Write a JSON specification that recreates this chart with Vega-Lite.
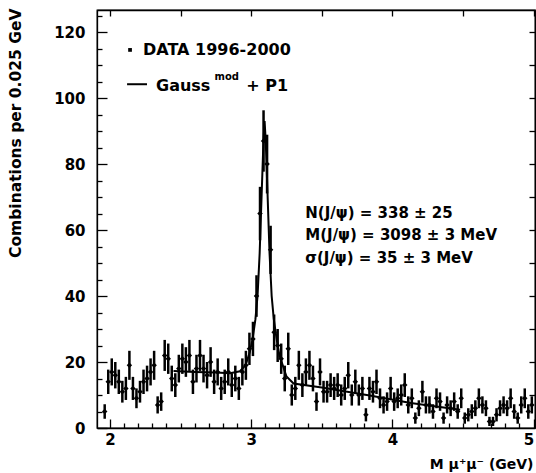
{
  "$schema": "https://vega.github.io/schema/vega-lite/v6.json",
  "width": 438,
  "height": 418,
  "autosize": {"type": "none"},
  "padding": {"left": 97, "top": 10, "right": 1, "bottom": 45},
  "background": "white",
  "config": {
    "font": "DejaVu Sans",
    "view": {"stroke": "black", "strokeWidth": 1.3},
    "axis": {"grid": false, "domainColor": "black", "domainWidth": 1.3, "tickColor": "black", "tickWidth": 1.3, "labelFont": "DejaVu Sans", "labelFontWeight": "bold", "labelFontSize": 15, "labelColor": "black", "titleFont": "DejaVu Sans", "titleFontWeight": "bold", "titleColor": "black", "labelOverlap": false, "labelFlush": false}
  },
  "datasets": {
    "pts": [
      {"x":1.9625,"y":5,"e":2.2},{"x":1.9875,"y":14,"e":3.7},{"x":2.0125,"y":17,"e":4.1},{"x":2.0375,"y":16,"e":4.0},
      {"x":2.0625,"y":14,"e":3.7},{"x":2.0875,"y":11,"e":3.3},{"x":2.1125,"y":12,"e":3.5},{"x":2.1375,"y":19,"e":4.4},
      {"x":2.1625,"y":12,"e":3.5},{"x":2.1875,"y":9,"e":3.0},{"x":2.2125,"y":11,"e":3.3},{"x":2.2375,"y":14,"e":3.7},
      {"x":2.2625,"y":15,"e":3.9},{"x":2.2875,"y":17,"e":4.1},{"x":2.3125,"y":19,"e":4.4},{"x":2.3375,"y":7,"e":2.6},
      {"x":2.3625,"y":8,"e":2.8},{"x":2.3875,"y":22,"e":4.7},{"x":2.4125,"y":21,"e":4.6},{"x":2.4375,"y":15,"e":3.9},
      {"x":2.4625,"y":13,"e":3.6},{"x":2.4875,"y":18,"e":4.2},{"x":2.5125,"y":21,"e":4.6},{"x":2.5375,"y":20,"e":4.5},
      {"x":2.5625,"y":22,"e":4.7},{"x":2.5875,"y":14,"e":3.7},{"x":2.6125,"y":18,"e":4.2},{"x":2.6375,"y":22,"e":4.7},
      {"x":2.6625,"y":18,"e":4.2},{"x":2.6875,"y":16,"e":4.0},{"x":2.7125,"y":20,"e":4.5},{"x":2.7375,"y":14,"e":3.7},
      {"x":2.7625,"y":17,"e":4.1},{"x":2.7875,"y":12,"e":3.5},{"x":2.8125,"y":14,"e":3.7},{"x":2.8375,"y":17,"e":4.1},
      {"x":2.8625,"y":13,"e":3.6},{"x":2.8875,"y":15,"e":3.9},{"x":2.9125,"y":12,"e":3.5},{"x":2.9375,"y":17,"e":4.1},
      {"x":2.9625,"y":19,"e":4.4},{"x":2.9875,"y":24,"e":4.9},{"x":3.0125,"y":27,"e":5.2},{"x":3.0375,"y":40,"e":6.3},
      {"x":3.0625,"y":65,"e":8.1},{"x":3.0875,"y":87,"e":9.3},{"x":3.1125,"y":80,"e":8.9},{"x":3.1375,"y":54,"e":7.3},
      {"x":3.1625,"y":29,"e":5.4},{"x":3.1875,"y":25,"e":5.0},{"x":3.2125,"y":21,"e":4.6},{"x":3.2375,"y":15,"e":3.9},
      {"x":3.2625,"y":24,"e":4.9},{"x":3.2875,"y":10,"e":3.2},{"x":3.3125,"y":12,"e":3.5},{"x":3.3375,"y":19,"e":4.4},
      {"x":3.3625,"y":13,"e":3.6},{"x":3.3875,"y":17,"e":4.1},{"x":3.4125,"y":19,"e":4.4},{"x":3.4375,"y":15,"e":3.9},
      {"x":3.4625,"y":8,"e":2.8},{"x":3.4875,"y":17,"e":4.1},{"x":3.5125,"y":11,"e":3.3},{"x":3.5375,"y":11,"e":3.3},
      {"x":3.5625,"y":13,"e":3.6},{"x":3.5875,"y":12,"e":3.5},{"x":3.6125,"y":13,"e":3.6},{"x":3.6375,"y":10,"e":3.2},
      {"x":3.6625,"y":12,"e":3.5},{"x":3.6875,"y":16,"e":4.0},{"x":3.7125,"y":10,"e":3.2},{"x":3.7375,"y":14,"e":3.7},
      {"x":3.7625,"y":10,"e":3.2},{"x":3.7875,"y":12,"e":3.5},{"x":3.8125,"y":4,"e":2.0},{"x":3.8375,"y":12,"e":3.5},
      {"x":3.8625,"y":11,"e":3.3},{"x":3.8875,"y":14,"e":3.7},{"x":3.9125,"y":9,"e":3.0},{"x":3.9375,"y":7,"e":2.6},
      {"x":3.9625,"y":8,"e":2.8},{"x":3.9875,"y":12,"e":3.5},{"x":4.0125,"y":8,"e":2.8},{"x":4.0375,"y":9,"e":3.0},
      {"x":4.0625,"y":10,"e":3.2},{"x":4.0875,"y":13,"e":3.6},{"x":4.1125,"y":7,"e":2.6},{"x":4.1375,"y":9,"e":3.0},
      {"x":4.1625,"y":3,"e":1.7},{"x":4.1875,"y":6,"e":2.4},{"x":4.2125,"y":11,"e":3.3},{"x":4.2375,"y":7,"e":2.6},
      {"x":4.2625,"y":7,"e":2.6},{"x":4.2875,"y":5,"e":2.2},{"x":4.3125,"y":9,"e":3.0},{"x":4.3375,"y":8,"e":2.8},
      {"x":4.3625,"y":3,"e":1.7},{"x":4.3875,"y":7,"e":2.6},{"x":4.4125,"y":6,"e":2.4},{"x":4.4375,"y":8,"e":2.8},
      {"x":4.4625,"y":5,"e":2.2},{"x":4.4875,"y":9,"e":3.0},{"x":4.5125,"y":3,"e":1.7},{"x":4.5375,"y":4,"e":2.0},
      {"x":4.5625,"y":5,"e":2.2},{"x":4.5875,"y":6,"e":2.4},{"x":4.6125,"y":9,"e":3.0},{"x":4.6375,"y":7,"e":2.6},
      {"x":4.6625,"y":6,"e":2.4},{"x":4.6875,"y":2,"e":1.4},{"x":4.7125,"y":2,"e":1.4},{"x":4.7375,"y":4,"e":2.0},
      {"x":4.7625,"y":6,"e":2.4},{"x":4.7875,"y":7,"e":2.6},{"x":4.8125,"y":6,"e":2.4},{"x":4.8375,"y":9,"e":3.0},
      {"x":4.8625,"y":5,"e":2.2},{"x":4.8875,"y":3,"e":1.7},{"x":4.9125,"y":7,"e":2.6},{"x":4.9375,"y":9,"e":3.0},
      {"x":4.9625,"y":5,"e":2.2},{"x":4.9875,"y":7,"e":2.6}
    ],
    "fit": [
      {"x":2.45,"y":17.3},{"x":2.6,"y":17.0},{"x":2.75,"y":16.8},{"x":2.85,"y":16.6},{"x":2.92,"y":17.2},
      {"x":2.96,"y":19},{"x":2.99,"y":23},{"x":3.01,"y":27},{"x":3.03,"y":33},{"x":3.045,"y":40},
      {"x":3.06,"y":53},{"x":3.075,"y":72},{"x":3.087,"y":87},{"x":3.095,"y":93},{"x":3.103,"y":87},
      {"x":3.115,"y":72},{"x":3.13,"y":53},{"x":3.145,"y":40},{"x":3.16,"y":33},{"x":3.18,"y":27},
      {"x":3.2,"y":22},{"x":3.25,"y":15.6},{"x":3.3,"y":13.5},{"x":3.5,"y":12.3},{"x":3.85,"y":9.8},
      {"x":4.13,"y":7.6},{"x":4.48,"y":5.5}
    ],
    "legline": [{"x":2.121,"x2":2.262,"y":104.2}],
    "legdot": [{"x":2.142,"y":114.6}],
    "legtexts": [
      {"x":2.234,"y":114.6,"t":"DATA 1996-2000"},
      {"x":2.326,"y":103.8,"t":"Gauss"},
      {"x":2.965,"y":103.8,"t":"+ P1"}
    ],
    "texts": [
      {"x":3.383,"y":65.2,"t":"N(J/ψ) = 338 ± 25"},
      {"x":3.383,"y":58.4,"t":"M(J/ψ) = 3098 ± 3 MeV"},
      {"x":3.383,"y":51.6,"t":"σ(J/ψ) = 35 ± 3 MeV"}
    ],
    "sup": [{"x":2.74,"y":106.3,"t":"mod"}]
  },
  "layer": [
    {
      "data": {"name": "pts"},
      "mark": {"type": "errorbar", "color": "black", "thickness": 2.5, "ticks": false},
      "encoding": {
        "x": {"field": "x", "type": "quantitative", "scale": {"domain": [1.908, 5.01], "nice": false, "zero": false},
          "axis": {"orient": "bottom", "values": [2,2.1,2.2,2.3,2.4,2.5,2.6,2.7,2.8,2.9,3,3.1,3.2,3.3,3.4,3.5,3.6,3.7,3.8,3.9,4,4.1,4.2,4.3,4.4,4.5,4.6,4.7,4.8,4.9,5],
            "labelExpr": "abs(datum.value-round(datum.value))<0.001 ? format(datum.value,'d') : ''",
            "labelAlign": {"condition": {"test": "datum.value > 4.95", "value": "right"}, "value": "center"},
            "tickSize": {"condition": {"test": "abs(datum.value-round(datum.value))<0.001", "value": -9}, "value": -5},
            "labelPadding": 13,
            "title": "M μ⁺μ⁻ (GeV)", "titleFontSize": 14, "titleX": 436, "titleY": 40, "titleAlign": "right", "titleBaseline": "alphabetic", "titleAnchor": null}},
        "y": {"field": "y", "type": "quantitative", "scale": {"domain": [0, 126.7], "nice": false}, "title": "Combinations per 0.025 GeV",
          "axis": {"orient": "left", "values": [0,5,10,15,20,25,30,35,40,45,50,55,60,65,70,75,80,85,90,95,100,105,110,115,120,125],
            "labelExpr": "datum.value % 20 === 0 ? datum.label : ''",
            "tickSize": {"condition": {"test": "datum.value % 20 === 0", "value": -10}, "value": -5},
            "labelPadding": 22,
            "titleFontSize": 15.5, "titleX": -82, "titleY": -2, "titleAngle": -90, "titleAlign": "right", "titleBaseline": "middle", "titleAnchor": null}},
        "yError": {"field": "e"}
      }
    },
    {
      "data": {"name": "pts"},
      "mark": {"type": "point", "shape": "diamond", "filled": true, "color": "black", "size": 30, "opacity": 1},
      "encoding": {
        "x": {"field": "x", "type": "quantitative", "axis": null},
        "y": {"field": "y", "type": "quantitative", "axis": null}
      }
    },
    {
      "data": {"name": "fit"},
      "mark": {"type": "line", "color": "black", "strokeWidth": 2},
      "encoding": {
        "x": {"field": "x", "type": "quantitative", "axis": null},
        "y": {"field": "y", "type": "quantitative", "axis": null}
      }
    },
    {
      "data": {"name": "legline"},
      "mark": {"type": "rule", "color": "black", "strokeWidth": 2},
      "encoding": {
        "x": {"field": "x", "type": "quantitative", "axis": null},
        "x2": {"field": "x2"},
        "y": {"field": "y", "type": "quantitative", "axis": null}
      }
    },
    {
      "data": {"name": "legdot"},
      "mark": {"type": "point", "shape": "square", "filled": true, "color": "black", "size": 14, "opacity": 1},
      "encoding": {
        "x": {"field": "x", "type": "quantitative", "axis": null},
        "y": {"field": "y", "type": "quantitative", "axis": null}
      }
    },
    {
      "data": {"name": "sup"},
      "mark": {"type": "text", "align": "left", "baseline": "middle", "font": "DejaVu Sans", "fontWeight": "bold", "fontSize": 10, "color": "black"},
      "encoding": {
        "x": {"field": "x", "type": "quantitative", "axis": null},
        "y": {"field": "y", "type": "quantitative", "axis": null},
        "text": {"field": "t"}
      }
    },
    {
      "data": {"name": "legtexts"},
      "mark": {"type": "text", "align": "left", "baseline": "middle", "font": "DejaVu Sans", "fontWeight": "bold", "fontSize": 16, "color": "black"},
      "encoding": {
        "x": {"field": "x", "type": "quantitative", "axis": null},
        "y": {"field": "y", "type": "quantitative", "axis": null},
        "text": {"field": "t"}
      }
    },
    {
      "data": {"name": "texts"},
      "mark": {"type": "text", "align": "left", "baseline": "middle", "font": "DejaVu Sans", "fontWeight": "bold", "fontSize": 15, "color": "black"},
      "encoding": {
        "x": {"field": "x", "type": "quantitative",
          "axis": {"orient": "top", "labels": false, "title": null, "values": [2,2.5,3,3.5,4,4.5,5], "tickSize": -6}},
        "y": {"field": "y", "type": "quantitative",
          "axis": {"orient": "right", "labels": false, "title": null, "values": [10,20,30,40,50,60,70,80,90,100,110,120], "tickSize": -6}},
        "text": {"field": "t"}
      }
    }
  ],
  "resolve": {"axis": {"x": "independent", "y": "independent"}}
}
